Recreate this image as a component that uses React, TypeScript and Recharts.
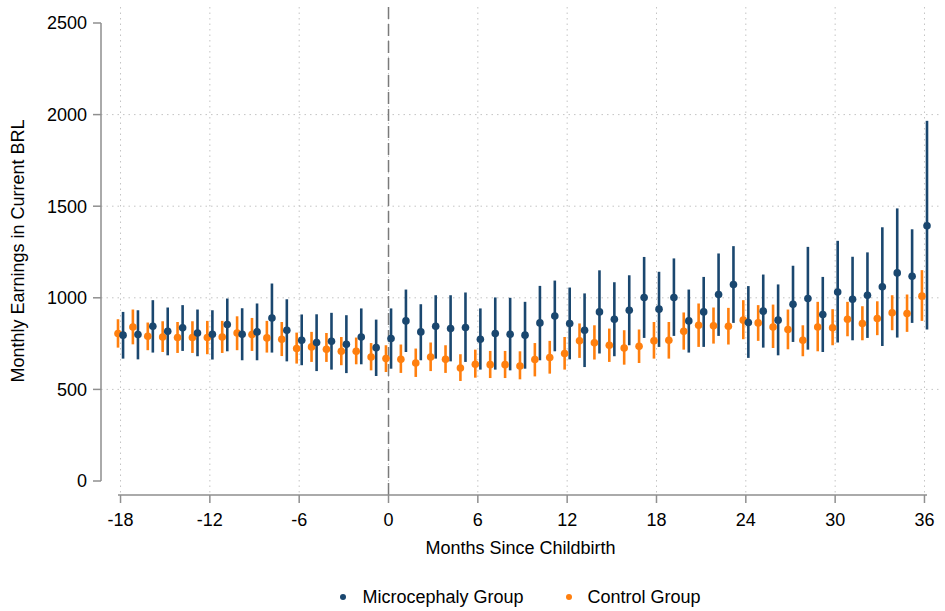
import {
    ScatterChart, Scatter, XAxis, YAxis, CartesianGrid, ReferenceLine, ErrorBar, Legend, Label
} from "recharts"

// months relative to childbirth
const months = [
    -18, -17, -16, -15, -14, -13, -12, -11, -10, -9, -8, -7, -6, -5, -4, -3, -2, -1,
    0, 1, 2, 3, 4, 5, 6, 7, 8, 9, 10, 11, 12, 13, 14, 15, 16, 17, 18,
    19, 20, 21, 22, 23, 24, 25, 26, 27, 28, 29, 30, 31, 32, 33, 34, 35, 36
]

const microMean = [
    796, 799, 845, 817, 836, 808, 801, 854, 801, 814, 890, 823, 768, 756, 763, 746, 786, 728,
    778, 874, 814, 845, 832, 838, 774, 805, 801, 796, 863, 901, 860, 823, 923, 883, 932, 1002, 938,
    1002, 874, 923, 1018, 1073, 865, 927, 878, 965, 996, 909, 1032, 992, 1014, 1060, 1136, 1118, 1393
]
const microLow = [
    668, 664, 701, 686, 710, 681, 663, 708, 659, 659, 701, 653, 632, 600, 608, 589, 637, 573,
    613, 704, 659, 668, 653, 650, 608, 608, 604, 613, 659, 708, 664, 622, 696, 681, 741, 781, 732,
    792, 701, 732, 792, 863, 672, 728, 686, 759, 717, 704, 756, 768, 781, 737, 783, 863, 827
]
const microHigh = [
    923, 932, 987, 947, 960, 936, 932, 996, 943, 969, 1078, 992, 909, 910, 918, 905, 942, 881,
    942, 1045, 965, 1014, 1014, 1029, 942, 1002, 1000, 978, 1065, 1094, 1056, 1024, 1150, 1085, 1123, 1223, 1142,
    1215, 1045, 1114, 1242, 1282, 1064, 1127, 1073, 1175, 1278, 1114, 1311, 1224, 1248, 1385, 1488, 1374, 1966
]

const controlMean = [
    805, 841, 790, 786, 783, 783, 783, 786, 808, 799, 781, 774, 723, 732, 719, 708, 708, 677,
    668, 664, 644, 677, 664, 617, 637, 635, 635, 628, 663, 674, 696, 765, 754, 741, 726, 735, 765,
    768, 817, 850, 847, 845, 878, 863, 841, 827, 768, 841, 836, 883, 860, 887, 918, 914, 1009
]
const controlLow = [
    728, 746, 714, 704, 699, 699, 692, 699, 714, 710, 701, 682, 641, 650, 650, 632, 637, 604,
    595, 590, 568, 600, 590, 546, 564, 562, 562, 555, 571, 586, 608, 672, 663, 650, 635, 644, 668,
    668, 717, 732, 750, 745, 774, 765, 726, 719, 681, 708, 741, 790, 768, 796, 823, 814, 874
]
const controlHigh = [
    883, 936, 865, 872, 868, 872, 874, 874, 899, 890, 874, 868, 810, 814, 808, 786, 783, 753,
    741, 745, 723, 756, 741, 692, 717, 710, 710, 708, 753, 765, 786, 860, 850, 832, 823, 827, 868,
    868, 920, 969, 947, 945, 987, 960, 963, 936, 850, 978, 938, 978, 954, 981, 1014, 1018, 1151
]

const xTicks = [-18, -12, -6, 0, 6, 12, 18, 24, 30, 36]
const yTicks = [0, 500, 1000, 1500, 2000, 2500]

const BLUE = "#1a476f"
const ORANGE = "#ff7f0e"
const AXIS = "#8f8f8f"

// small horizontal shift so the two groups don't sit on top of each other
const SHIFT = 0.17

const buildRows = (mean: number[], low: number[], high: number[], shift: number) =>
    months.map((m, i) => ({
        x: m + shift,
        y: mean[i],
        err: [mean[i] - low[i], high[i] - mean[i]],
    }))

const microRows = buildRows(microMean, microLow, microHigh, SHIFT)
const controlRows = buildRows(controlMean, controlLow, controlHigh, -SHIFT)

const dot = (color: string) => (p: any) =>
    <circle cx={p.cx} cy={p.cy} r={3.8} fill={color} />

const legendItems = [
    { name: "Microcephaly Group", color: BLUE },
    { name: "Control Group", color: ORANGE },
]

const renderLegend = () => (
    <div style={{ display: "flex", justifyContent: "center", gap: 42, fontSize: 18, lineHeight: "20px", color: "#000" }}>
        {legendItems.map((it) => (
            <div key={it.name} style={{ display: "flex", alignItems: "center" }}>
                <svg width={6} height={6} style={{ marginRight: 16 }}>
                    <circle cx={3} cy={3} r={3} fill={it.color} />
                </svg>
                <span>{it.name}</span>
            </div>
        ))}
    </div>
)

export default function App() {
    return (
        <div style={{
            position: "absolute", left: 0, top: 0, width: 945, height: 611,
            background: "#fff", fontFamily: '"Liberation Sans", Arial, sans-serif'
        }}>
            <ScatterChart width={945} height={611} margin={{ top: 7, right: 5, bottom: 0, left: 0 }}>
                <CartesianGrid
                    stroke="#c4c4c4"
                    strokeDasharray="1.5 4"
                    verticalValues={xTicks}
                    horizontalValues={[500, 1000, 1500, 2000]}
                />
                <XAxis
                    dataKey="x"
                    type="number"
                    domain={[-18, 36]}
                    ticks={xTicks}
                    interval={0}
                    padding={{ left: 17, right: 13 }}
                    height={116}
                    tickSize={8}
                    tickMargin={10}
                    tick={{ fill: "#000", fontSize: 18 }}
                    tickLine={{ stroke: AXIS, strokeWidth: 1.5 }}
                    axisLine={{ stroke: AXIS, strokeWidth: 1.5, strokeDasharray: "0 17 809 200" }}
                >
                    <Label value="Months Since Childbirth" position="insideTop" offset={46} fill="#000" fontSize={18} />
                </XAxis>
                <YAxis
                    dataKey="y"
                    type="number"
                    domain={[0, 2500]}
                    ticks={yTicks}
                    interval={0}
                    padding={{ top: 16, bottom: 14 }}
                    width={101}
                    tickSize={8}
                    tickMargin={6}
                    tick={{ fill: "#000", fontSize: 18 }}
                    tickLine={{ stroke: AXIS, strokeWidth: 1.5 }}
                    axisLine={{ stroke: AXIS, strokeWidth: 1.5, strokeDasharray: "0 16 458 200" }}
                >
                    <Label
                        value="Monthly Earnings in Current BRL"
                        angle={-90}
                        position="insideLeft"
                        offset={18}
                        fill="#000"
                        fontSize={18}
                        style={{ textAnchor: "middle" }}
                    />
                </YAxis>
                <ReferenceLine x={0} stroke="#7a7a7a" strokeWidth={1.5} strokeDasharray="12 5" />
                <Scatter name="Control Group" data={controlRows} fill={ORANGE} shape={dot(ORANGE)} isAnimationActive={false}>
                    <ErrorBar dataKey="err" direction="y" width={0} stroke={ORANGE} strokeWidth={2.6} />
                </Scatter>
                <Scatter name="Microcephaly Group" data={microRows} fill={BLUE} shape={dot(BLUE)} isAnimationActive={false}>
                    <ErrorBar dataKey="err" direction="y" width={0} stroke={BLUE} strokeWidth={2.6} />
                </Scatter>
                <Legend
                    layout="horizontal"
                    align="center"
                    verticalAlign="middle"
                    wrapperStyle={{ left: 101, top: 587, width: 839 }}
                    content={renderLegend}
                />
            </ScatterChart>
        </div>
    )
}
